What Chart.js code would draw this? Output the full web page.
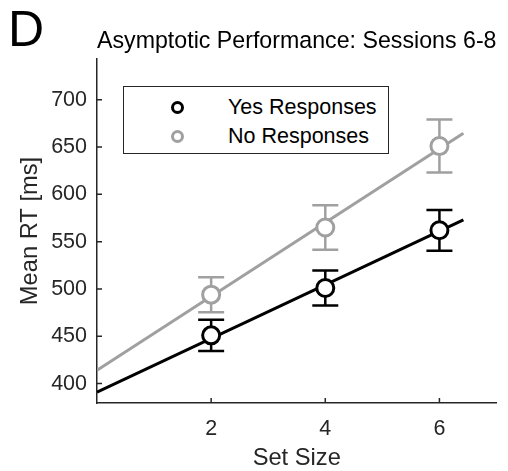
<!DOCTYPE html>
<html>
<head>
<meta charset="utf-8">
<script src="https://cdn.jsdelivr.net/npm/chart.js@4.4.1/dist/chart.umd.min.js"></script>
<style>
  body { margin: 0; background: #fff; font-family: "Liberation Sans", Arial, sans-serif; }
  #wrap { position: relative; width: 508px; height: 471px; }
  #panel { position: absolute; left: 8px; top: 4px; font-size: 50px; line-height: 1; color: #000; }
  #legend {
    position: absolute; left: 123px; top: 86px; width: 264px; height: 66px;
    border: 1.5px solid #262626; background: #fff; font-size: 21.5px; color: #000;
  }
  .row { position: absolute; left: 0; height: 26px; line-height: 26px; }
  .row .mk {
    position: absolute; left: 47px; top: 7px; width: 7px; height: 7px;
    border: 3px solid #000; border-radius: 50%;
  }
  .row .lbl { position: absolute; left: 104px; white-space: nowrap; }
</style>
</head>
<body>
<div id="wrap">
  <canvas id="chart" width="508" height="471"></canvas>
  <div id="panel">D</div>
  <div id="legend"></div>
</div>
<script>
// data
const setSizes = [2, 4, 6];
const yesMeans = [451, 501, 562];
const yesErrs = [16.5, 18.5, 21.5];
const noMeans = [494, 565, 651];
const noErrs = [18.5, 23.5, 28];

// fitted lines (end points)
const fitX = [0, 6.42];
const yesFit = [391, 573];
const noFit = [414, 664.5];

const xTicks = [2, 4, 6];
const yTicks = [400, 450, 500, 550, 600, 650, 700];

const titleText = 'Asymptotic Performance: Sessions 6-8';
const xLabel = 'Set Size';
const yLabel = 'Mean RT [ms]';
const seriesNames = ['Yes Responses', 'No Responses'];

const BLACK = '#000000';
const GRAY = '#a0a0a0';
const AXIS = '#262626';

Chart.defaults.font.family = '"Liberation Sans", Arial, sans-serif';
Chart.defaults.color = AXIS;

const groups = [
    { means: noMeans, errs: noErrs, color: GRAY },
    { means: yesMeans, errs: yesErrs, color: BLACK }
];

const errorBars = {
    id: 'errorBars',
    beforeDatasetsDraw(chart) {
        const { ctx, scales: { x, y } } = chart;
        groups.forEach(g => {
            ctx.save();
            ctx.strokeStyle = g.color;
            ctx.lineWidth = 2.5;
            setSizes.forEach((s, i) => {
                const px = x.getPixelForValue(s);
                const top = y.getPixelForValue(g.means[i] + g.errs[i]);
                const bot = y.getPixelForValue(g.means[i] - g.errs[i]);
                ctx.beginPath();
                ctx.moveTo(px, top); ctx.lineTo(px, bot);
                ctx.moveTo(px - 13, top); ctx.lineTo(px + 13, top);
                ctx.moveTo(px - 13, bot); ctx.lineTo(px + 13, bot);
                ctx.stroke();
            });
            ctx.restore();
        });
    }
};

// matlab style ticks pointing into the axes
const inwardTicks = {
    id: 'inwardTicks',
    afterDraw(chart) {
        const { ctx, chartArea, scales: { x, y } } = chart;
        ctx.save();
        ctx.strokeStyle = AXIS;
        ctx.lineWidth = 1.5;
        ctx.beginPath();
        y.ticks.forEach(t => {
            const py = y.getPixelForValue(t.value);
            ctx.moveTo(chartArea.left, py);
            ctx.lineTo(chartArea.left + 5, py);
        });
        x.ticks.forEach(t => {
            const px = x.getPixelForValue(t.value);
            ctx.moveTo(px, chartArea.bottom);
            ctx.lineTo(px, chartArea.bottom - 5);
        });
        ctx.stroke();
        ctx.restore();
    }
};

const toPoints = (xs, ys) => xs.map((v, i) => ({ x: v, y: ys[i] }));

const chart = new Chart(document.getElementById('chart'), {
    type: 'scatter',
    data: {
        datasets: [{
            label: seriesNames[0],
            data: toPoints(setSizes, yesMeans),
            pointRadius: 8.5,
            pointBorderWidth: 3,
            borderColor: BLACK,
            backgroundColor: '#ffffff',
            pointBorderColor: BLACK,
            pointBackgroundColor: '#ffffff',
            order: 0
        }, {
            label: seriesNames[1],
            data: toPoints(setSizes, noMeans),
            pointRadius: 8.5,
            pointBorderWidth: 3,
            borderColor: GRAY,
            backgroundColor: '#ffffff',
            pointBorderColor: GRAY,
            pointBackgroundColor: '#ffffff',
            order: 1
        }, {
            type: 'line',
            data: toPoints(fitX, yesFit),
            borderColor: BLACK,
            borderWidth: 3,
            pointRadius: 0,
            order: 2
        }, {
            type: 'line',
            data: toPoints(fitX, noFit),
            borderColor: GRAY,
            borderWidth: 3,
            pointRadius: 0,
            order: 3
        }]
    },
    options: {
        responsive: false,
        animation: false,
        layout: { padding: { top: 0, right: 8, left: 0, bottom: 0 } },
        plugins: {
            legend: { display: false },
            tooltip: { enabled: false },
            title: {
                display: true,
                text: titleText,
                fullSize: false,
                color: '#000',
                font: { size: 23.7, weight: 'normal', lineHeight: 1 },
                padding: { top: 29.5, bottom: 5.8 }
            }
        },
        scales: {
            x: {
                type: 'linear',
                min: 0,
                max: 7,
                afterBuildTicks: s => { s.ticks = xTicks.map(v => ({ value: v })); },
                afterFit: s => { s.height = 68; },
                grid: { display: false, drawTicks: false },
                border: { display: true, color: AXIS, width: 1.5 },
                ticks: { padding: 13, font: { size: 21.5 }, color: AXIS },
                title: {
                    display: true, text: xLabel, color: AXIS,
                    font: { size: 23.7, lineHeight: 1 },
                    padding: { top: 0, bottom: 1 }
                }
            },
            y: {
                type: 'linear',
                min: 379.5,
                max: 743,
                afterBuildTicks: s => { s.ticks = yTicks.map(v => ({ value: v })); },
                afterFit: s => { s.width = 97; },
                grid: { display: false, drawTicks: false },
                border: { display: true, color: AXIS, width: 1.5 },
                ticks: { padding: 10, font: { size: 21.5 }, color: AXIS },
                title: {
                    display: true, text: yLabel, color: AXIS,
                    font: { size: 23.7, lineHeight: 1 },
                    padding: { top: 18.5, bottom: 0 }
                }
            }
        }
    },
    plugins: [errorBars, inwardTicks]
});

// legend box
const legend = document.getElementById('legend');
[BLACK, GRAY].forEach((c, i) => {
    const row = document.createElement('div');
    row.className = 'row';
    row.style.top = (i === 0 ? 7 : 36) + 'px';
    row.innerHTML = `<span class="mk" style="border-color:${c}"></span><span class="lbl">${seriesNames[i]}</span>`;
    legend.appendChild(row);
});
</script>
</body>
</html>
